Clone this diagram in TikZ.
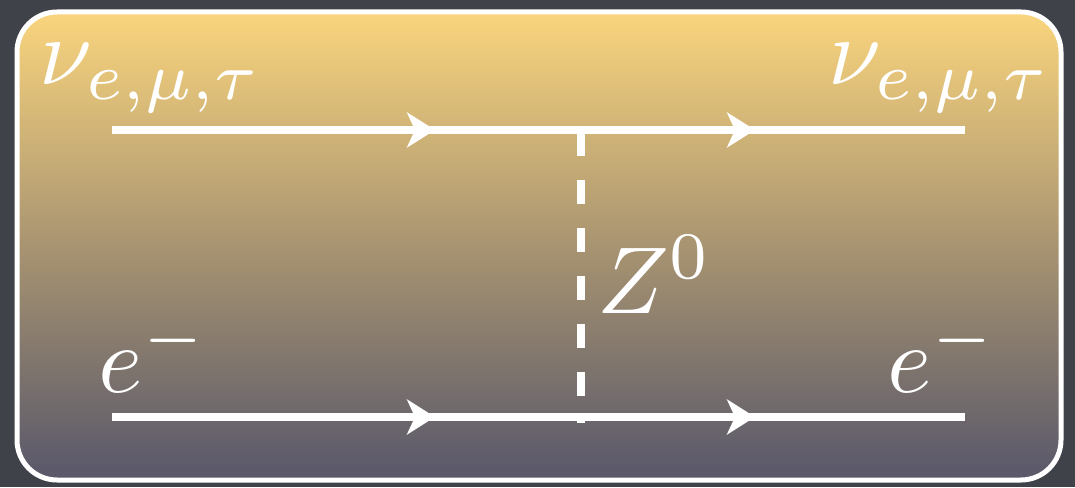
\documentclass[tikz,border=0pt]{standalone}
\usetikzlibrary{arrows.meta,decorations.markings}
\definecolor{bgdark}{RGB}{64,66,74}
\definecolor{ctop}{RGB}{250,213,125}
\definecolor{cmid}{RGB}{168,148,113}
\definecolor{cbot}{RGB}{88,87,106}
\tikzset{
  fermion/.style={draw=white, line width=8pt, postaction={decorate},
    decoration={markings,
      mark=at position 323pt with {\arrow{Stealth[length=28pt,width=35pt,inset=8pt,fill=white]}},
      mark=at position 643pt with {\arrow{Stealth[length=28pt,width=35pt,inset=8pt,fill=white]}}}},
  boson/.style={draw=white, line width=8pt, dash pattern=on 24pt off 24pt},
  lbl/.style={text=white, inner sep=0pt, scale=9.5},
  panel/.style={draw=white, line width=5pt, rounded corners=40pt,
    top color=ctop, bottom color=cbot, middle color=cmid}
}
\begin{document}
\begin{tikzpicture}[x=1pt,y=1pt]
\fill[bgdark] (0,0) rectangle (1075,487);
\useasboundingbox (0,0) rectangle (1075,487);
\path[panel] (17,7) rectangle (1061,475);
\coordinate (nuL) at (112,357);
\coordinate (vtop) at (581,357);
\coordinate (nuR) at (965,357);
\coordinate (eL) at (112,70);
\coordinate (vbot) at (581,70);
\coordinate (eR) at (965,70);
\draw[boson] ([yshift=-2pt]vtop) -- ([yshift=-6pt]vbot);
\draw[fermion] (nuL) -- (vtop) -- (nuR);
\draw[fermion] (eL) -- (vbot) -- (eR);
\node[lbl, anchor=base west] (nul) at (38,402) {$\nu_{e,\mu,\tau}$};
\node[lbl, anchor=base west] (nur) at (827,402) {$\nu_{e,\mu,\tau}$};
\node[lbl, anchor=base west] (el) at (97,95) {$e^-$};
\node[lbl, anchor=base west] (er) at (886,95) {$e^-$};
\node[lbl, anchor=base west] (z) at (596,174) {$Z^0$};
\end{tikzpicture}
\end{document}
